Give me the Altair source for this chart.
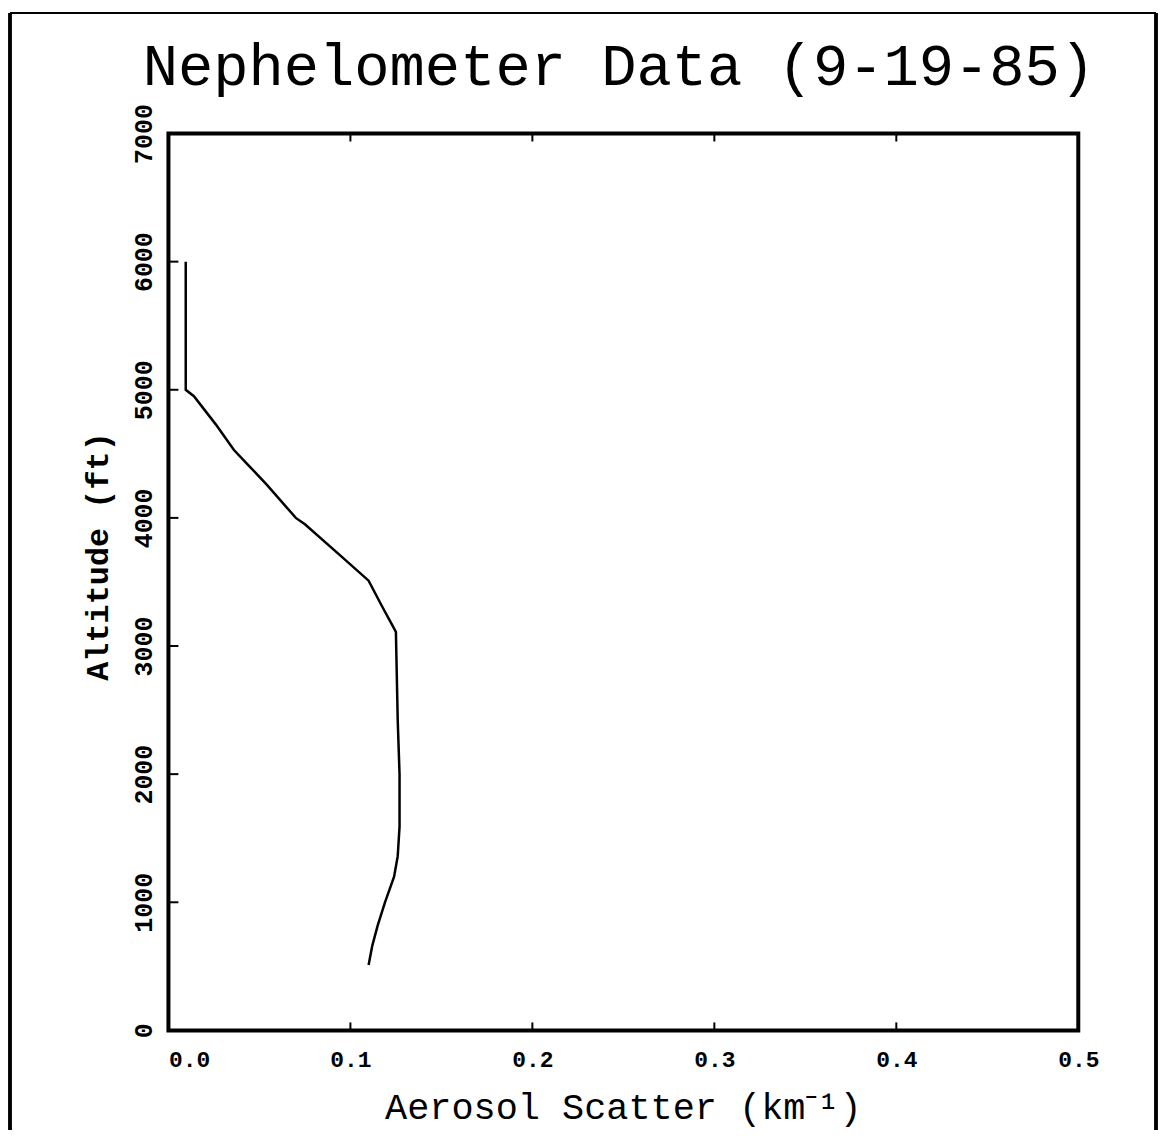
import altair as alt
import pandas as pd

# Profile (altitude in ft, aerosol scatter in km^-1)
altitude_ft = [6000, 5000, 4950, 4730, 4530, 4410, 4260, 4000, 3950, 3700,
               3510, 3320, 3110, 2420, 2000, 1590, 1360, 1200, 1000, 820, 660, 510]
aerosol_scatter = [0.0095, 0.0095, 0.014, 0.026, 0.036, 0.044, 0.054, 0.070, 0.075, 0.095,
                   0.110, 0.117, 0.125, 0.126, 0.127, 0.127, 0.126, 0.124, 0.119, 0.115, 0.112, 0.110]

x_tick_values = [0.0, 0.1, 0.2, 0.3, 0.4, 0.5]
y_tick_values = [0, 1000, 2000, 3000, 4000, 5000, 6000, 7000]
x_inner_ticks = [0.1, 0.2, 0.3, 0.4]
y_inner_ticks = [1000, 2000, 3000, 4000, 5000, 6000]
chart_title = "Nephelometer Data (9-19-85)"

W, H = 913, 900
MONO = "Liberation Mono"

df = pd.DataFrame({"scatter": aerosol_scatter, "alt": altitude_ft,
                   "i": list(range(len(altitude_ft)))})
xt = pd.DataFrame({"t": x_inner_ticks})
yt = pd.DataFrame({"t": y_inner_ticks})
tt = pd.DataFrame({"label": [chart_title]})

xscale = alt.Scale(domain=[0, 0.5], nice=False, zero=False)
yscale = alt.Scale(domain=[0, 7000], nice=False)

line = alt.Chart(df).mark_line(color="black", strokeWidth=2.5).encode(
    x=alt.X("scatter:Q", scale=xscale,
            axis=alt.Axis(values=x_tick_values, format=".1f", ticks=False, domain=False,
                          grid=False, labelFont=MONO, labelFontWeight="bold",
                          labelFontSize=23, labelColor="black", labelPadding=18,
                          labelAlign=alt.expr("datum.value == 0 ? 'left' : 'center'"),
                          title="Aerosol Scatter (km⁻¹)", titleFont=MONO,
                          titleFontSize=37, titleFontWeight="normal", titleColor="black",
                          titleX=456, titleY=88, titleBaseline="alphabetic",
                          titleAlign="center")),
    y=alt.Y("alt:Q", scale=yscale,
            axis=alt.Axis(values=y_tick_values, format="d", ticks=False, domain=False,
                          grid=False, labelFont=MONO, labelFontWeight="bold",
                          labelFontSize=25, labelColor="black", labelPadding=12,
                          labelAngle=270, labelAlign="center", labelBaseline="bottom",
                          title="Altitude (ft)", titleFont=MONO, titleFontSize=32,
                          titleFontWeight="bold", titleColor="black", titleAngle=270,
                          titleX=-71, titleY=424, titleAlign="center",
                          titleBaseline="middle")),
    order="i:Q",
)

bottom_ticks = alt.Chart(xt).mark_rule(color="black", strokeWidth=2).encode(
    x=alt.X("t:Q", scale=xscale), y=alt.value(H), y2=alt.value(H - 8))
top_ticks = alt.Chart(xt).mark_rule(color="black", strokeWidth=2).encode(
    x=alt.X("t:Q", scale=xscale), y=alt.value(0), y2=alt.value(8))
left_ticks = alt.Chart(yt).mark_rule(color="black", strokeWidth=2).encode(
    y=alt.Y("t:Q", scale=yscale), x=alt.value(0), x2=alt.value(10))

title_text = alt.Chart(tt).mark_text(font=MONO, fontSize=59, color="black",
                                     align="center", baseline="alphabetic").encode(
    text="label:N", x=alt.value(452), y=alt.value(-49))

# outer page frame
frame_left = alt.Chart(xt).mark_rule(color="black", strokeWidth=3).encode(
    x=alt.value(-159), y=alt.value(-121), y2=alt.value(1000))
frame_top = alt.Chart(xt).mark_rule(color="black", strokeWidth=2).encode(
    x=alt.value(-159), x2=alt.value(991), y=alt.value(-121))
frame_right = alt.Chart(xt).mark_rule(color="black", strokeWidth=3).encode(
    x=alt.value(991), y=alt.value(-121), y2=alt.value(1000))

chart = alt.layer(line, bottom_ticks, top_ticks, left_ticks, title_text,
                  frame_left, frame_top, frame_right).properties(
    width=W, height=H,
    autosize=alt.AutoSizeParams(type="none"),
    padding={"left": 161, "top": 124, "right": 80, "bottom": 100},
).configure(background="white").configure_view(stroke="black", strokeWidth=4)

chart.save("out.html", embed_options={"renderer": "svg", "actions": False})
